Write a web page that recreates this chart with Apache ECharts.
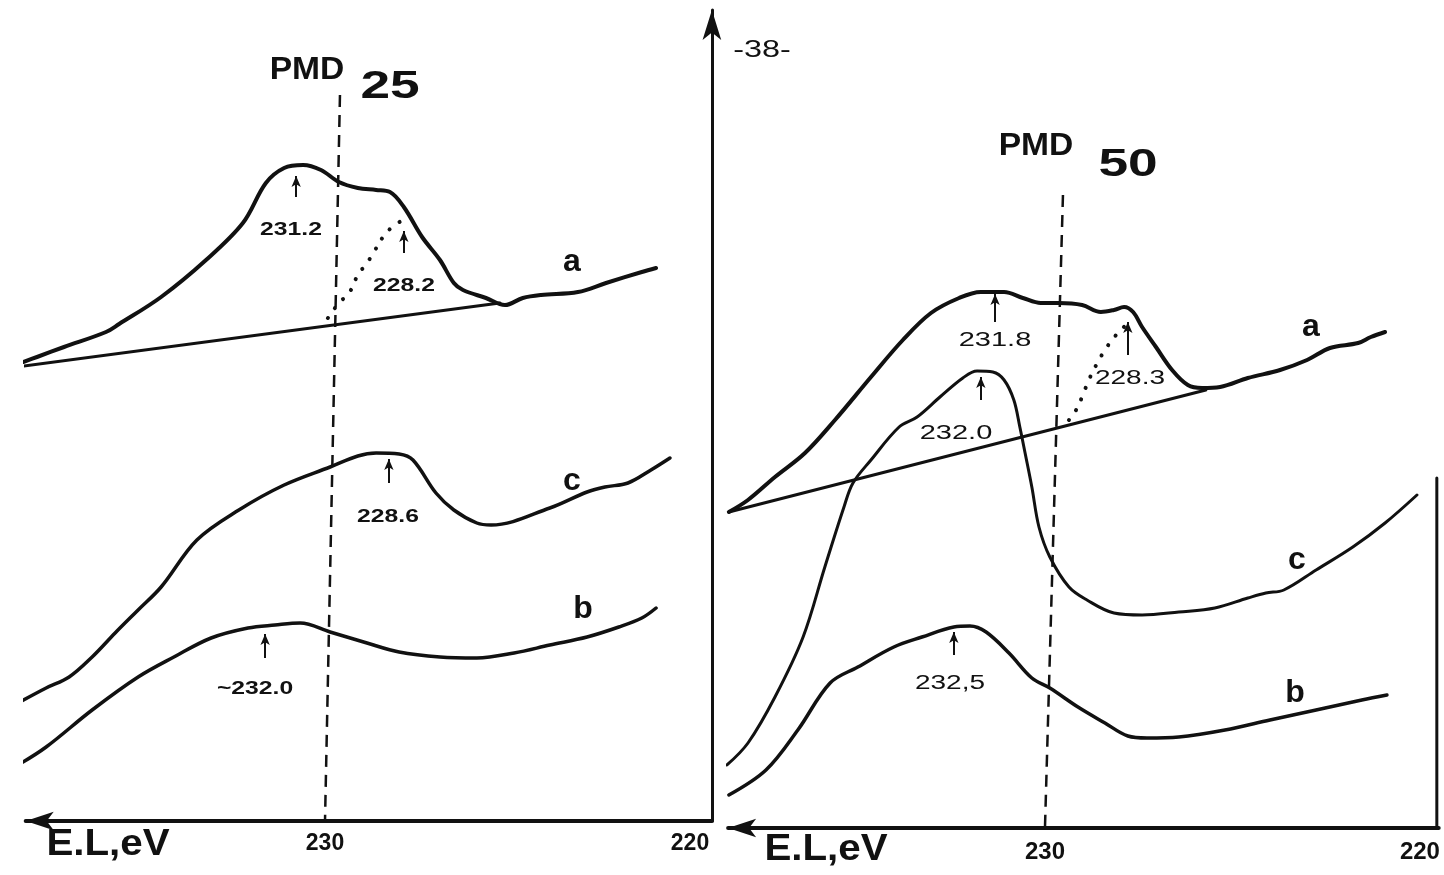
<!DOCTYPE html>
<html>
<head>
<meta charset="utf-8">
<script src="https://cdn.jsdelivr.net/npm/echarts@6/dist/echarts.min.js"></script>
<style>
html,body{margin:0;padding:0;background:#fff;}
#chart{width:1444px;height:875px;}
</style>
</head>
<body>
<div id="chart"></div>
<script>
// ---------- tick labels (binding energy, eV) ----------
const tickValues = [230, 220];

// ---------- PMD25 (left panel): [E (eV), intensity (a.u.)] ----------
const leftA = [[238.27,459],[237.89,464],[237.15,474],[236.00,489],[235.64,497],[234.49,524],[233.26,561],[232.25,598],[231.62,638],[231.12,653],[230.60,656],[230.11,651],[229.62,639],[229.10,633],[228.60,631],[228.22,629],[227.84,614],[227.34,584],[226.85,561],[226.47,538],[226.22,531],[225.59,523],[225.07,516],[224.58,523],[224.08,526],[223.07,529],[222.30,538],[221.32,549],[220.93,553]];
const leftABase = [[238.66,453],[225.21,518]];
const leftADotted = [[229.92,503],[229.62,518],[229.34,528],[229.10,546],[228.85,558],[228.66,569],[228.41,584],[228.16,594],[227.86,601]];
const leftC = [[238.41,118],[237.64,133],[237.01,144],[236.38,164],[235.75,188],[235.12,211],[234.49,234],[233.51,281],[232.36,311],[231.12,336],[229.86,354],[229.10,365],[228.60,368],[227.97,367],[227.59,361],[226.96,328],[226.47,311],[225.84,298],[225.45,296],[223.84,313],[222.82,329],[222.33,334],[221.70,338],[221.07,351],[220.55,363]];
const leftB = [[238.41,56],[237.64,74],[236.38,111],[235.12,144],[234.14,164],[233.12,183],[232.11,193],[231.37,196],[230.68,198],[229.86,189],[228.85,178],[227.97,169],[226.85,164],[225.84,163],[224.82,168],[223.84,176],[222.82,184],[221.95,194],[221.32,203],[220.93,213]];
const leftRef = [[229.59,726],[230.00,0]];
// peak arrows: [E, intensity at tail, intensity at head]
const leftArrows = [[230.79,624,645],[227.84,568,590],[228.25,338,362],[231.64,163,187]];

// ---------- PMD50 (right panel) ----------
const rightA = [[238.43,316],[237.92,328],[237.20,351],[236.40,375],[235.60,408],[234.64,451],[233.79,488],[233.04,515],[232.29,530],[231.71,536],[231.09,536],[230.59,530],[230.11,525],[229.63,525],[229.01,523],[228.51,516],[228.16,518],[227.89,521],[227.65,516],[227.41,501],[227.04,481],[226.61,458],[226.19,443],[225.81,440],[225.33,441],[224.59,450],[223.73,458],[223.01,468],[222.40,480],[221.65,485],[221.31,491],[220.93,496]];
const rightABase = [[238.43,316],[225.71,438]];
const rightADotted = [[229.36,408],[229.17,418],[229.01,431],[228.83,448],[228.59,466],[228.40,478],[228.21,488],[228.03,496],[227.81,504]];
const rightC = [[238.48,63],[237.92,85],[237.20,131],[236.45,191],[235.87,261],[235.36,321],[235.12,345],[234.64,368],[233.89,401],[233.41,411],[232.80,431],[232.19,450],[231.81,457],[231.39,456],[231.09,448],[230.83,428],[230.67,401],[230.53,375],[230.35,341],[230.16,301],[229.87,271],[229.36,241],[228.88,228],[228.16,215],[227.41,213],[226.43,216],[225.47,220],[224.59,230],[224.11,235],[223.63,238],[222.77,258],[221.79,281],[220.93,305],[220.08,333]];
const rightB = [[238.43,33],[237.44,58],[236.59,98],[235.73,145],[234.99,161],[234.03,181],[233.28,191],[232.43,201],[232.00,202],[231.57,196],[230.96,175],[230.35,150],[229.87,140],[229.12,121],[228.40,105],[227.79,92],[227.28,90],[226.43,91],[225.20,98],[224.00,108],[222.77,118],[221.55,128],[220.88,133]];
const rightRef = [[229.52,633],[230.00,0]];
const rightArrows = [[231.33,506,534],[227.79,473,506],[231.71,428,451],[232.43,173,196]];
const rightFrame = [[219.55,0],[219.55,350]];

const INK = '#111';
const FONT = '"Liberation Sans", Arial, sans-serif';

function curve(data, g, width, dash, smooth) {
  return {
    type: 'line', data: data, xAxisIndex: g, yAxisIndex: g,
    symbol: 'none', showSymbol: false, smooth: smooth, clip: false, silent: true,
    lineStyle: { color: INK, width: width, type: dash || 'solid', cap: 'round', join: 'round' }
  };
}
function arrows(list) {
  return {
    silent: true, symbol: ['none', 'arrow'], symbolSize: [7, 11],
    lineStyle: { color: INK, width: 2, type: 'solid' }, label: { show: false },
    emphasis: { disabled: true },
    data: list.map(a => [{ coord: [a[0], a[1]] }, { coord: [a[0], a[2]] }])
  };
}
function txt(x, y, text, size, weight, sx) {
  return { type: 'text', silent: true, x: x, y: y, scaleX: sx || 1, style: {
    x: 0, y: 0, text: text, fill: INK,
    font: (weight || 'normal') + ' ' + size + 'px ' + FONT,
    fontSize: size, fontWeight: weight || 'normal', fontFamily: FONT,
    align: 'center', verticalAlign: 'middle',
    textAlign: 'center', textVerticalAlign: 'middle' } };
}

const xAxisCommon = {
  type: 'value', inverse: true, splitLine: { show: false },
  axisTick: { show: false }
};

const option = {
  animation: false,
  backgroundColor: '#fff',
  grid: [
    { left: 25.7, top: 10, width: 686.2, height: 811, outerBoundsMode: 'none', containLabel: false },
    { left: 728.1, top: 10, width: 710.6, height: 818, outerBoundsMode: 'none', containLabel: false }
  ],
  xAxis: [
    Object.assign({}, xAxisCommon, { gridIndex: 0, min: 219.4, max: 238.2,
      axisLine: { show: true, symbol: ['arrow', 'none'], symbolSize: [14, 28], lineStyle: { color: INK, width: 4 } },
      axisLabel: { customValues: tickValues, margin: 11, color: INK, fontSize: 23, fontWeight: 'bold', fontFamily: FONT } }),
    Object.assign({}, xAxisCommon, { gridIndex: 1, min: 219.5, max: 238.45,
      axisLine: { show: true, symbol: ['arrow', 'none'], symbolSize: [14, 28], lineStyle: { color: INK, width: 4 } },
      axisLabel: { customValues: tickValues, margin: 12, color: INK, fontSize: 24, fontWeight: 'bold', fontFamily: FONT } })
  ],
  yAxis: [
    { type: 'value', gridIndex: 0, min: 0, max: 811, position: 'right',
      splitLine: { show: false }, axisTick: { show: false }, axisLabel: { show: false },
      axisLine: { show: true, symbol: ['none', 'arrow'], symbolSize: [14, 30], lineStyle: { color: INK, width: 3 } } },
    { type: 'value', gridIndex: 1, min: 0, max: 818, show: false }
  ],
  series: [
    // left panel
    Object.assign(curve(leftABase, 0, 3, 'solid', false), { markLine: arrows(leftArrows) }),
    curve(leftA, 0, 4, 'solid', 0.35),
    curve(leftADotted, 0, 4, [0.1, 12], 0.4),
    curve(leftC, 0, 3.5, 'solid', 0.35),
    curve(leftB, 0, 3.5, 'solid', 0.35),
    Object.assign(curve(leftRef, 0, 2.5, [12, 8], false), { lineStyle: { color: INK, width: 2.5, type: [12, 8], cap: 'butt' } }),
    // right panel
    Object.assign(curve(rightABase, 1, 3, 'solid', false), { markLine: arrows(rightArrows) }),
    curve(rightA, 1, 4, 'solid', 0.35),
    curve(rightADotted, 1, 4, [0.1, 12], 0.4),
    curve(rightC, 1, 3, 'solid', 0.35),
    curve(rightB, 1, 3.5, 'solid', 0.35),
    Object.assign(curve(rightRef, 1, 2.5, [12, 8], false), { lineStyle: { color: INK, width: 2.5, type: [12, 8], cap: 'butt' } }),
    curve(rightFrame, 1, 3, 'solid', false)
  ],
  graphic: { elements: [
    txt(307, 70, 'PMD', 32, 'bold', 1.05),
    txt(390, 88, '25', 38, 'bold', 1.4),
    txt(1036, 146, 'PMD', 32, 'bold', 1.05),
    txt(1128, 166, '50', 38, 'bold', 1.4),
    txt(762, 50, '-38-', 24, 'normal', 1.35),
    txt(108, 845, 'E.L,eV', 36, 'bold', 1.12),
    txt(826, 850, 'E.L,eV', 36, 'bold', 1.12),
    // left annotations
    txt(291, 230, '231.2', 19, 'bold', 1.3),
    txt(404, 286, '228.2', 19, 'bold', 1.3),
    txt(388, 517, '228.6', 19, 'bold', 1.3),
    txt(255, 689, '~232.0', 19, 'bold', 1.3),
    txt(572, 262, 'a', 32, 'bold'),
    txt(572, 481, 'c', 32, 'bold'),
    txt(583, 609, 'b', 32, 'bold'),
    // right annotations
    txt(995, 340, '231.8', 20, 'normal', 1.45),
    txt(1130, 378, '228.3', 20, 'normal', 1.4),
    txt(956, 433, '232.0', 20, 'normal', 1.45),
    txt(950, 683, '232,5', 20, 'normal', 1.4),
    txt(1311, 327, 'a', 32, 'bold'),
    txt(1297, 560, 'c', 32, 'bold'),
    txt(1295, 693, 'b', 32, 'bold')
  ] }
};

const chart = echarts.init(document.getElementById('chart'), null, { renderer: 'canvas' });
chart.setOption(option);
</script>
</body>
</html>
